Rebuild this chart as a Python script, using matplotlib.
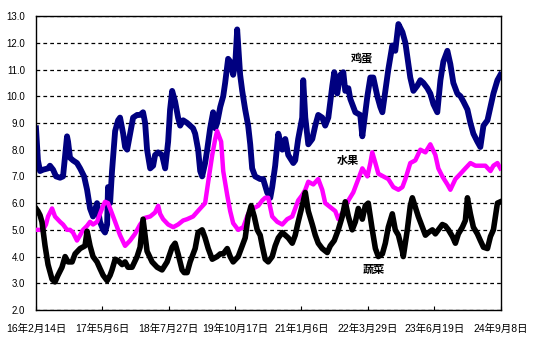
import numpy as np
import pandas as pd
import matplotlib
matplotlib.use("Agg")
import matplotlib.pyplot as plt

plt.rcParams['font.family'] = ['Liberation Sans', 'Noto Sans CJK SC']

start = pd.Timestamp('2016-02-14')
tick_step = 447  # days between labelled dates
n_ticks = 8

# days since 2016-02-14, price (yuan)
egg_day = [0, 13, 27, 47, 81, 94, 115, 135, 162, 182, 196, 209, 216, 229, 249, 276, 297, 324,
           344, 364, 384, 411, 431, 452, 465, 479, 485, 499, 512, 533, 553, 566, 587, 600, 614,
           634, 654, 681, 701, 721, 735, 748, 769, 789, 802, 823, 849, 870, 890, 903, 917, 937,
           957, 971, 991, 1018, 1038, 1058, 1072, 1092, 1106, 1119, 1139, 1153, 1173, 1193, 1207,
           1220, 1241, 1261, 1274, 1294, 1308, 1328, 1342, 1355, 1375, 1389, 1409, 1429, 1443,
           1456, 1476, 1510, 1530, 1557, 1578, 1591, 1611, 1632, 1659, 1679, 1699, 1733, 1746,
           1766, 1793, 1800, 1814, 1834, 1861, 1881, 1901, 1928, 1948, 1969, 1996, 2009, 2029,
           2050, 2070, 2083, 2104, 2117, 2151, 2184, 2198, 2218, 2232, 2252, 2272, 2299, 2319,
           2333, 2353, 2373, 2400, 2420, 2441, 2468, 2488, 2508, 2521, 2542, 2569, 2589, 2609,
           2636, 2656, 2677, 2703, 2724, 2744, 2771, 2791, 2811, 2838, 2859, 2879, 2906, 2926,
           2946, 2973, 2993, 3014, 3041, 3061, 3081, 3108, 3128]
egg_val = [8.8, 7.6, 7.2, 7.25, 7.3, 7.4, 7.25, 7.0, 6.95, 7.0, 7.8, 8.5, 8.3, 7.7, 7.6, 7.5, 7.3, 7.0,
           6.5, 5.8, 5.5, 6.0, 5.3, 5.0, 4.9, 5.2, 6.6, 6.0, 7.2, 8.7, 9.1, 9.2, 8.6, 8.1, 8.0,
           8.6, 9.2, 9.3, 9.3, 9.4, 9.0, 8.0, 7.3, 7.4, 7.8, 7.9, 7.8, 7.3, 8.3, 9.5, 10.2, 9.8,
           9.2, 8.9, 9.1, 9.0, 8.9, 8.8, 8.6, 8.0, 7.2, 7.0, 7.5, 8.0, 8.8, 9.4, 8.8,
           9.0, 9.6, 10.0, 10.5, 11.4, 11.3, 10.8, 11.2, 12.5, 10.8, 10.2, 9.5, 8.9, 8.2,
           7.3, 7.0, 6.9, 6.9, 6.4, 6.2, 6.6, 7.4, 8.6, 8.0, 8.4, 7.8, 7.5, 7.6,
           8.4, 9.2, 10.6, 9.2, 8.2, 8.4, 8.9, 9.3, 9.2, 8.9, 9.2, 10.4, 10.9, 10.1,
           10.8, 10.9, 10.2, 10.3, 9.9, 9.4, 9.3, 8.5, 9.4, 10.0, 10.7, 10.7, 10.0, 9.6,
           9.4, 10.2, 11.0, 11.9, 11.7, 12.7, 12.4, 12.0, 11.2, 10.7, 10.2, 10.4, 10.6, 10.5,
           10.3, 10.1, 9.7, 9.4, 10.6, 11.3, 11.7, 11.2, 10.5, 10.1, 10.0, 9.8, 9.5, 9.0,
           8.6, 8.3, 8.1, 8.9, 9.1, 9.6, 10.1, 10.6, 10.8]

fruit_day = [0, 27, 47, 67, 81, 108, 128, 162, 182, 209, 229, 249, 276, 297, 317, 344, 364, 384,
             411, 431, 452, 465, 485, 499, 533, 566, 600, 634, 667, 701, 735, 769, 802, 823, 836,
             856, 890, 924, 957, 991, 1018, 1058, 1106, 1139, 1160, 1187, 1207, 1220, 1247, 1261,
             1288, 1308, 1328, 1362, 1396, 1429, 1463, 1497, 1524, 1544, 1564, 1591, 1625, 1659,
             1692, 1726, 1746, 1766, 1793, 1814, 1834, 1868, 1901, 1928, 1948, 1982, 2016, 2036,
             2070, 2104, 2137, 2171, 2198, 2232, 2252, 2265, 2286, 2306, 2339, 2373, 2407, 2441,
             2468, 2488, 2521, 2555, 2589, 2623, 2656, 2690, 2710, 2737, 2771, 2791, 2825, 2859,
             2892, 2926, 2960, 2993, 3027, 3061, 3081, 3108, 3128]
fruit_val = [5.0, 5.0, 5.0, 5.2, 5.5, 5.8, 5.5, 5.3, 5.2, 5.0, 5.0, 4.9, 4.6, 4.8, 5.0, 5.15, 5.3, 5.2,
             5.3, 5.6, 5.9, 6.05, 6.0, 5.8, 5.3, 4.8, 4.4, 4.6, 4.85, 5.2, 5.45, 5.5, 5.65, 5.9, 5.6,
             5.4, 5.2, 5.1, 5.2, 5.35, 5.4, 5.5, 5.8, 6.0, 6.8, 7.8, 8.4, 8.7, 8.3, 7.2,
             6.3, 5.7, 5.25, 5.0, 5.1, 5.6, 5.8, 5.9, 6.1, 6.2, 6.2, 5.5, 5.3, 5.2,
             5.4, 5.5, 5.8, 6.1, 6.3, 6.5, 6.8, 6.7, 6.9, 6.5, 6.0, 5.85, 5.7, 5.4,
             5.7, 6.1, 6.4, 6.9, 7.3, 7.0, 7.5, 7.9, 7.5, 7.1, 7.0, 6.9, 6.6, 6.5,
             6.6, 6.9, 7.5, 7.6, 8.0, 7.9, 8.2, 7.8, 7.3, 7.0, 6.7, 6.5, 6.9, 7.1,
             7.3, 7.5, 7.4, 7.4, 7.4, 7.2, 7.4, 7.5, 7.3]

veg_day = [0, 13, 27, 40, 61, 81, 108, 128, 148, 175, 196, 216, 243, 263, 297, 330, 344, 364, 384,
           411, 431, 452, 479, 499, 512, 533, 553, 580, 600, 620, 647, 681, 701, 721, 748, 782,
           816, 849, 883, 917, 937, 957, 984, 998, 1018, 1038, 1072, 1092, 1119, 1139, 1160,
           1187, 1220, 1241, 1261, 1288, 1308, 1328, 1362, 1389, 1409, 1429, 1449, 1470, 1490,
           1510, 1524, 1544, 1564, 1591, 1611, 1632, 1659, 1679, 1699, 1726, 1746, 1766, 1793,
           1814, 1834, 1861, 1881, 1901, 1928, 1962, 1982, 2009, 2036, 2063, 2083, 2104, 2130,
           2151, 2171, 2198, 2218, 2238, 2265, 2286, 2306, 2333, 2353, 2373, 2400, 2420, 2441,
           2468, 2474, 2501, 2521, 2535, 2555, 2575, 2602, 2623, 2643, 2670, 2690, 2710, 2737,
           2757, 2778, 2805, 2825, 2845, 2872, 2892, 2906, 2926, 2946, 2973, 2993, 3014, 3041,
           3061, 3081, 3108, 3128]
veg_val = [5.8, 5.7, 5.55, 5.3, 4.4, 3.7, 3.15, 3.05, 3.3, 3.6, 4.0, 3.8, 3.8, 4.1, 4.3, 4.4, 4.95, 4.4, 4.0,
           3.8, 3.55, 3.3, 3.1, 3.3, 3.5, 3.9, 3.85, 3.7, 3.8, 3.6, 3.6, 4.0, 4.35, 5.4, 4.2, 3.8,
           3.6, 3.5, 3.8, 4.35, 4.5, 4.1, 3.5, 3.4, 3.4, 3.8, 4.3, 4.9, 5.0, 4.7, 4.3,
           3.9, 4.0, 4.1, 4.1, 4.3, 4.0, 3.8, 4.0, 4.4, 4.7, 5.5, 5.9, 5.5, 5.0,
           4.8, 4.4, 3.9, 3.8, 4.0, 4.4, 4.7, 4.9, 4.8, 4.7, 4.5, 4.8, 5.3, 5.9,
           6.4, 5.7, 5.2, 4.8, 4.5, 4.3, 4.15, 4.4, 4.6, 5.0, 5.5, 6.05, 5.5, 5.0,
           5.3, 5.8, 5.4, 5.9, 6.0, 5.0, 4.3, 4.0, 4.1, 4.5, 5.1, 5.6, 5.0, 4.8,
           4.2, 4.0, 5.0, 5.9, 6.2, 5.85, 5.5, 5.1, 4.8, 4.9, 5.0, 4.85, 5.0, 5.2,
           5.15, 5.0, 4.75, 4.5, 4.85, 5.1, 5.35, 6.2, 5.6, 5.1, 4.85, 4.6, 4.35, 4.3,
           4.75, 5.0, 6.0, 6.05]


def to_dates(days):
    return start + pd.to_timedelta(np.array(days), unit='D')


fig = plt.figure(figsize=(5.54, 3.46), dpi=100)
ax = fig.add_axes([0.065, 0.104, 0.8385, 0.8496])

ax.plot(to_dates(fruit_day), fruit_val, color='#FF00FF', lw=3.2, solid_joinstyle='round', zorder=3)
ax.plot(to_dates(veg_day), veg_val, color='black', lw=4.0, solid_joinstyle='round', zorder=4)
ax.plot(to_dates(egg_day), egg_val, color='#000080', lw=4.2, solid_joinstyle='round', zorder=2)

ax.text(start + pd.Timedelta(days=2198), 11.43, '鸡蛋', fontsize=8, fontweight='bold',
        ha='center', va='center')
ax.text(start + pd.Timedelta(days=2104), 7.58, '水果', fontsize=8, fontweight='bold',
        ha='center', va='center')
ax.text(start + pd.Timedelta(days=2272), 3.5, '蔬菜', fontsize=8, fontweight='bold',
        ha='center', va='center')

ticks = [start + pd.Timedelta(days=tick_step * i) for i in range(n_ticks)]
ax.set_xlim(ticks[0], ticks[-1])
ax.set_xticks(ticks)
ax.set_xticklabels([f"{t.year % 100}年{t.month}月{t.day}日" for t in ticks], fontsize=7.5)

ax.set_ylim(2, 13)
ax.set_yticks(np.arange(2, 14, 1))
ax.set_yticklabels([f"{v:.1f}" for v in np.arange(2, 14, 1)], fontsize=7)
ax.yaxis.grid(True, color='black', linestyle=(0, (3, 2.5)), lw=0.9)
ax.set_axisbelow(True)

ax.tick_params(axis='x', direction='in', length=3, pad=10, colors='black')
ax.tick_params(axis='y', direction='in', length=0, pad=8, colors='black')
for sp in ax.spines.values():
    sp.set_linewidth(1.0)
    sp.set_color('black')

fig.savefig('out.png', dpi=100)
